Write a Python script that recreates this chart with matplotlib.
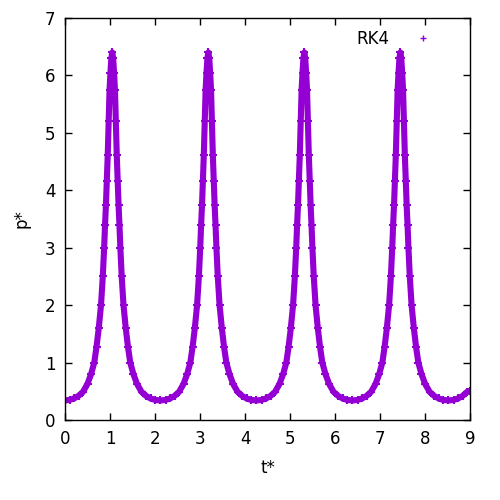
import matplotlib
matplotlib.use("Agg")
import matplotlib.pyplot as plt
from matplotlib.lines import Line2D

# values (t*, p*) for the RK4 solution
t_vals = [
    0.0, 0.10, 0.20, 0.30, 0.40, 0.50, 0.58, 0.65, 0.70, 0.75, 0.80, 0.84, 0.87, 0.89, 0.91,
    0.93, 0.95, 0.97, 0.99, 1.01, 1.03, 1.05, 1.07, 1.09, 1.11, 1.13, 1.15, 1.17, 1.19, 1.21,
    1.23, 1.26, 1.30, 1.35, 1.40, 1.45, 1.52, 1.60, 1.70, 1.80, 1.90, 2.00, 2.117,
    2.235, 2.335, 2.435, 2.535, 2.635, 2.715, 2.785, 2.835, 2.885, 2.935, 2.975, 3.005, 3.025,
    3.045, 3.065, 3.085, 3.105, 3.125, 3.145, 3.165, 3.185, 3.205, 3.225, 3.245, 3.265, 3.285,
    3.305, 3.325, 3.345, 3.365, 3.395, 3.435, 3.485, 3.535, 3.585, 3.655, 3.735, 3.835, 3.935,
    4.035, 4.135, 4.25,
    4.368, 4.468, 4.568, 4.668, 4.768, 4.848, 4.918, 4.968, 5.018, 5.068, 5.108, 5.138, 5.158,
    5.178, 5.198, 5.218, 5.238, 5.258, 5.278, 5.298, 5.318, 5.338, 5.358, 5.378, 5.398, 5.418,
    5.438, 5.458, 5.478, 5.498, 5.528, 5.568, 5.618, 5.668, 5.718, 5.788, 5.868, 5.968, 6.068,
    6.168, 6.268, 6.385,
    6.502, 6.602, 6.702, 6.802, 6.902, 6.982, 7.052, 7.102, 7.152, 7.202, 7.242, 7.272, 7.292,
    7.312, 7.332, 7.352, 7.372, 7.392, 7.412, 7.432, 7.452, 7.472, 7.492, 7.512, 7.532, 7.552,
    7.572, 7.592, 7.612, 7.632, 7.662, 7.702, 7.752, 7.802, 7.852, 7.922, 8.002, 8.102, 8.202,
    8.302, 8.402, 8.52,
    8.636, 8.736, 8.836, 8.936, 9.0,
]
p_vals = [
    0.34, 0.35, 0.375, 0.42, 0.49, 0.63, 0.80, 1.00, 1.27, 1.60, 2.00, 2.50, 3.00, 3.40, 3.75,
    4.17, 4.62, 5.20, 5.75, 6.05, 6.30, 6.40, 6.30, 6.05, 5.75, 5.20, 4.62, 4.17, 3.75, 3.40,
    3.00, 2.50, 2.00, 1.60, 1.27, 1.00, 0.80, 0.63, 0.49, 0.42, 0.375, 0.35, 0.34,
    0.35, 0.375, 0.42, 0.49, 0.63, 0.80, 1.00, 1.27, 1.60, 2.00, 2.50, 3.00, 3.40,
    3.75, 4.17, 4.62, 5.20, 5.75, 6.05, 6.30, 6.40, 6.30, 6.05, 5.75, 5.20, 4.62,
    4.17, 3.75, 3.40, 3.00, 2.50, 2.00, 1.60, 1.27, 1.00, 0.80, 0.63, 0.49, 0.42,
    0.375, 0.35, 0.34,
    0.35, 0.375, 0.42, 0.49, 0.63, 0.80, 1.00, 1.27, 1.60, 2.00, 2.50, 3.00, 3.40,
    3.75, 4.17, 4.62, 5.20, 5.75, 6.05, 6.30, 6.40, 6.30, 6.05, 5.75, 5.20, 4.62,
    4.17, 3.75, 3.40, 3.00, 2.50, 2.00, 1.60, 1.27, 1.00, 0.80, 0.63, 0.49, 0.42,
    0.375, 0.35, 0.34,
    0.35, 0.375, 0.42, 0.49, 0.63, 0.80, 1.00, 1.27, 1.60, 2.00, 2.50, 3.00, 3.40,
    3.75, 4.17, 4.62, 5.20, 5.75, 6.05, 6.30, 6.40, 6.30, 6.05, 5.75, 5.20, 4.62,
    4.17, 3.75, 3.40, 3.00, 2.50, 2.00, 1.60, 1.27, 1.00, 0.80, 0.63, 0.49, 0.42,
    0.375, 0.35, 0.34,
    0.35, 0.375, 0.42, 0.49, 0.51,
]

x_ticks = list(range(0, 10))
y_ticks = list(range(0, 8))
COLOR = "#9400d3"

fig = plt.figure(figsize=(5, 5), dpi=100)
ax = fig.add_axes([0.13, 0.16, 0.81, 0.804])

ax.plot(t_vals, p_vals, color=COLOR, lw=4.4, marker="+", ms=5.5, mew=1.5,
        solid_capstyle="butt")

ax.set_xlim(0, 9)
ax.set_ylim(0, 7)
ax.set_xticks(x_ticks)
ax.set_yticks(y_ticks)
ax.tick_params(direction="in", length=5, width=1, top=True, right=True,
               labelsize=12, pad=7, colors="black")
for s in ax.spines.values():
    s.set_linewidth(1)
ax.set_xlabel("t*", fontsize=12, labelpad=8)
ax.set_ylabel("p*", fontsize=12, labelpad=10)

# gnuplot style key: label first, then the point symbol
handle = Line2D([], [], color=COLOR, ls="none", marker="+", ms=5, mew=1)
ax.legend([handle], ["RK4"], loc="upper right", frameon=False, markerfirst=False,
          fontsize=12, handlelength=2.5, bbox_to_anchor=(0.965, 1.0),
          borderaxespad=0.3)

fig.savefig("out.png", dpi=100)
